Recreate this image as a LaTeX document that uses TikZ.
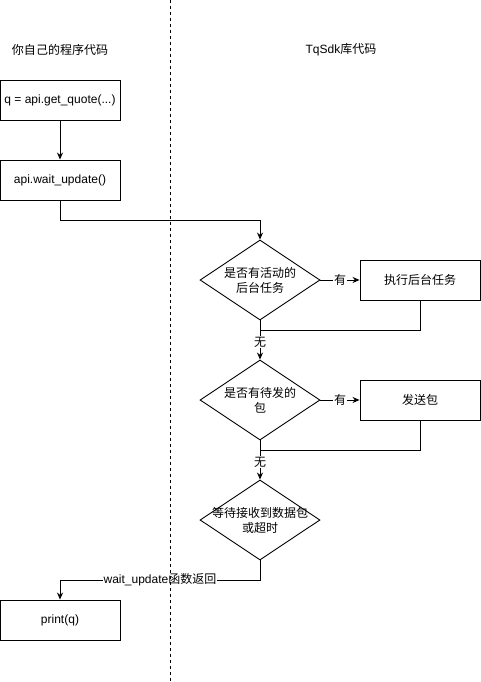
\documentclass[tikz,border=0pt]{standalone}
\usepackage{fontspec}
\setmainfont{Liberation Sans}
\newfontfamily\cjk{Noto Sans CJK SC}
\usetikzlibrary{arrows.meta,shapes.geometric}
\begin{document}
\begin{tikzpicture}[x=1pt,y=-1pt,
  font=\fontsize{12}{15}\selectfont,
  line width=0.9pt,
  box/.style={draw,minimum width=120pt,minimum height=40pt,inner sep=0pt,align=center},
  dia/.style={draw,diamond,minimum width=120pt,minimum height=80pt,aspect=1.5,inner sep=0pt,align=center},
  arr/.style={-{Stealth[length=7pt,width=6pt]}},
  lbl/.style={fill=white,inner sep=1pt}]
\useasboundingbox (0,0) rectangle (481,682);
\node (t1) at (60,50) {\cjk 你自己的程序代码};
\node (t2) at (341,50) {TqSdk{\cjk 库代码}};
\node[box] (b1) at (60,100) {q = api.get\_quote(...)};
\node[box] (b2) at (60,180) {api.wait\_update()};
\node[dia] (d1) at (260,280) {\cjk 是否有活动的\\\cjk 后台任务};
\node[box] (b3) at (420,280) {\cjk 执行后台任务};
\node[dia] (d2) at (260,400) {\cjk 是否有待发的\\\cjk 包};
\node[box] (b4) at (420,400) {\cjk 发送包};
\node[dia] (d3) at (260,520) {};
\node[align=center] (d3t) at (d3.center) {\cjk 等待接收到数据包\\\cjk 或超时};
\node[box] (b5) at (60,620) {print(q)};
\coordinate (c1) at (60,220);
\coordinate (c2) at (260,220);
\coordinate (c3) at (420,330);
\coordinate (c4) at (260,330);
\coordinate (c5) at (420,450);
\coordinate (c6) at (260,450);
\coordinate (c7) at (260,580);
\coordinate (c8) at (60,580);
\coordinate (top) at (170,0);
\coordinate (bot) at (170,682);
\draw[arr] (b1.south) -- (b2.north);
\draw[arr] (b2.south) -- (c1) -- (c2) -- (d1.north);
\draw[arr] (d1.east) -- node[lbl]{\cjk 有} (b3.west);
\draw (b3.south) -- (c3) -- (c4);
\draw[arr] (d1.south) -- node[lbl,pos=0.55]{\cjk 无} (d2.north);
\draw[arr] (d2.east) -- node[lbl]{\cjk 有} (b4.west);
\draw (b4.south) -- (c5) -- (c6);
\draw[arr] (d2.south) -- node[lbl,pos=0.55]{\cjk 无} (d3.north);
\draw[arr] (d3.south) -- (c7) -- node[lbl,pos=0.5]{wait\_update{\cjk 函数返回}} (c8) -- (b5.north);
\draw[dash pattern=on 3pt off 3pt,line width=0.8pt] (top) -- (bot);
\end{tikzpicture}
\end{document}
